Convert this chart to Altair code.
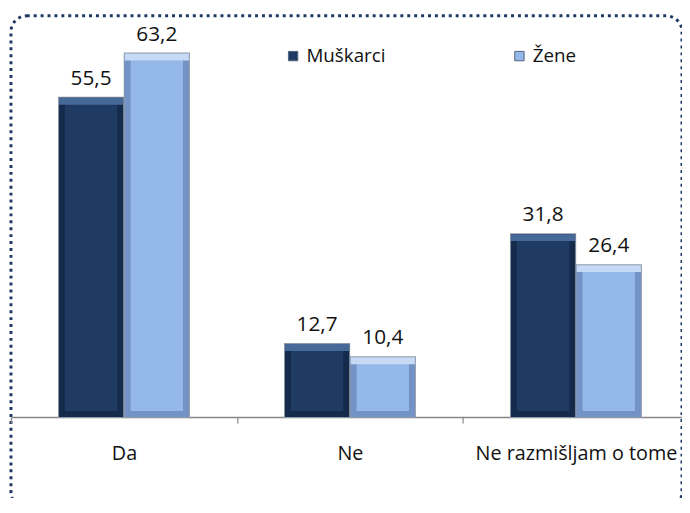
import altair as alt
import pandas as pd

categories = ["Da", "Ne", "Ne razmišljam o tome"]
series = ["Muškarci", "Žene"]
muskarci = [55.5, 12.7, 31.8]
zene = [63.2, 10.4, 26.4]

face_colors = ["#1F3B64", "#95B8EA"]
side_colors = ["#142B4C", "#7393C6"]
top_colors = ["#47699A", "#C6DAF5"]

rows = []
for c, m, z in zip(categories, muskarci, zene):
    for s, v in zip(series, [m, z]):
        rows.append({"cat": c, "series": s, "value": v,
                     "label": f"{v:.1f}".replace(".", ",")})
df = pd.DataFrame(rows)

FONT = "Open Sans"

x_enc = alt.X(
    "cat:N", sort=categories, title=None,
    scale=alt.Scale(range=[0, 686], paddingInner=0, paddingOuter=0),
    axis=alt.Axis(
        offset=-92, orient="bottom", domainColor="#868686", domainWidth=1.5,
        tickColor="#868686", tickSize=6, tickWidth=1.2, tickBand="extent",
        labelFont=FONT, labelFontSize=20, labelColor="#111111",
        labelBaseline="alphabetic", labelPadding=37, labelLimit=400,
        labelAngle=0, grid=False,
    ),
)
xo_enc = alt.XOffset("series:N", sort=series,
                     scale=alt.Scale(paddingOuter=0.776, paddingInner=0.113))
y_scale = alt.Scale(domain=[-15.81, 69.76], nice=False, zero=False)
y_enc = alt.Y("value:Q", scale=y_scale, axis=None, stack=None)

base = alt.Chart(df).encode(x=x_enc, xOffset=xo_enc)

side = alt.condition(alt.datum.series == "Muškarci",
                     alt.value(side_colors[0]), alt.value(side_colors[1]))
topc = alt.condition(alt.datum.series == "Muškarci",
                     alt.value(top_colors[0]), alt.value(top_colors[1]))

# thin grey outline behind the bevelled bar
outline = base.mark_bar(stroke="#8E99A8", strokeWidth=8, yOffset=3,
                        y2Offset=-3).encode(y=y_enc, y2=alt.datum(0), color=side)

# bar face with a bevel-coloured stroke
main = base.mark_bar(strokeWidth=6, yOffset=3, y2Offset=-3).encode(
    y=y_enc,
    y2=alt.datum(0),
    stroke=side,
    color=alt.Color(
        "series:N", sort=series,
        scale=alt.Scale(domain=series, range=face_colors),
        legend=alt.Legend(
            title=None, orient="none", direction="horizontal",
            legendX=276, legendY=31, columnPadding=126,
            labelFont=FONT, labelFontSize=19, labelColor="#111111",
            labelOffset=4, symbolType="square", symbolSize=90,
            symbolStrokeColor="#55657C", symbolStrokeWidth=1,
        ),
    ),
)

# light top bevel
top_strip = base.mark_bar(strokeWidth=6, yOffset=3, y2Offset=4).encode(
    y=y_enc, y2=alt.Y2("value:Q"), color=topc, stroke=topc,
)

labels = base.mark_text(
    dy=-13, baseline="alphabetic", font=FONT, fontSize=21, color="#111111"
).encode(y=y_enc, text="label:N")

chart = (
    alt.layer(outline, main, top_strip, labels)
    .properties(
        width=679, height=498,
        padding={"left": 3, "top": 5, "right": 0, "bottom": -13},
        autosize=alt.AutoSizeParams(type="none"),
    )
    .configure_view(stroke="#1F3864", strokeDash=[3, 4], strokeWidth=3,
                    cornerRadius=16)
)

chart.save("out.html", embed_options={"renderer": "svg", "actions": False})
